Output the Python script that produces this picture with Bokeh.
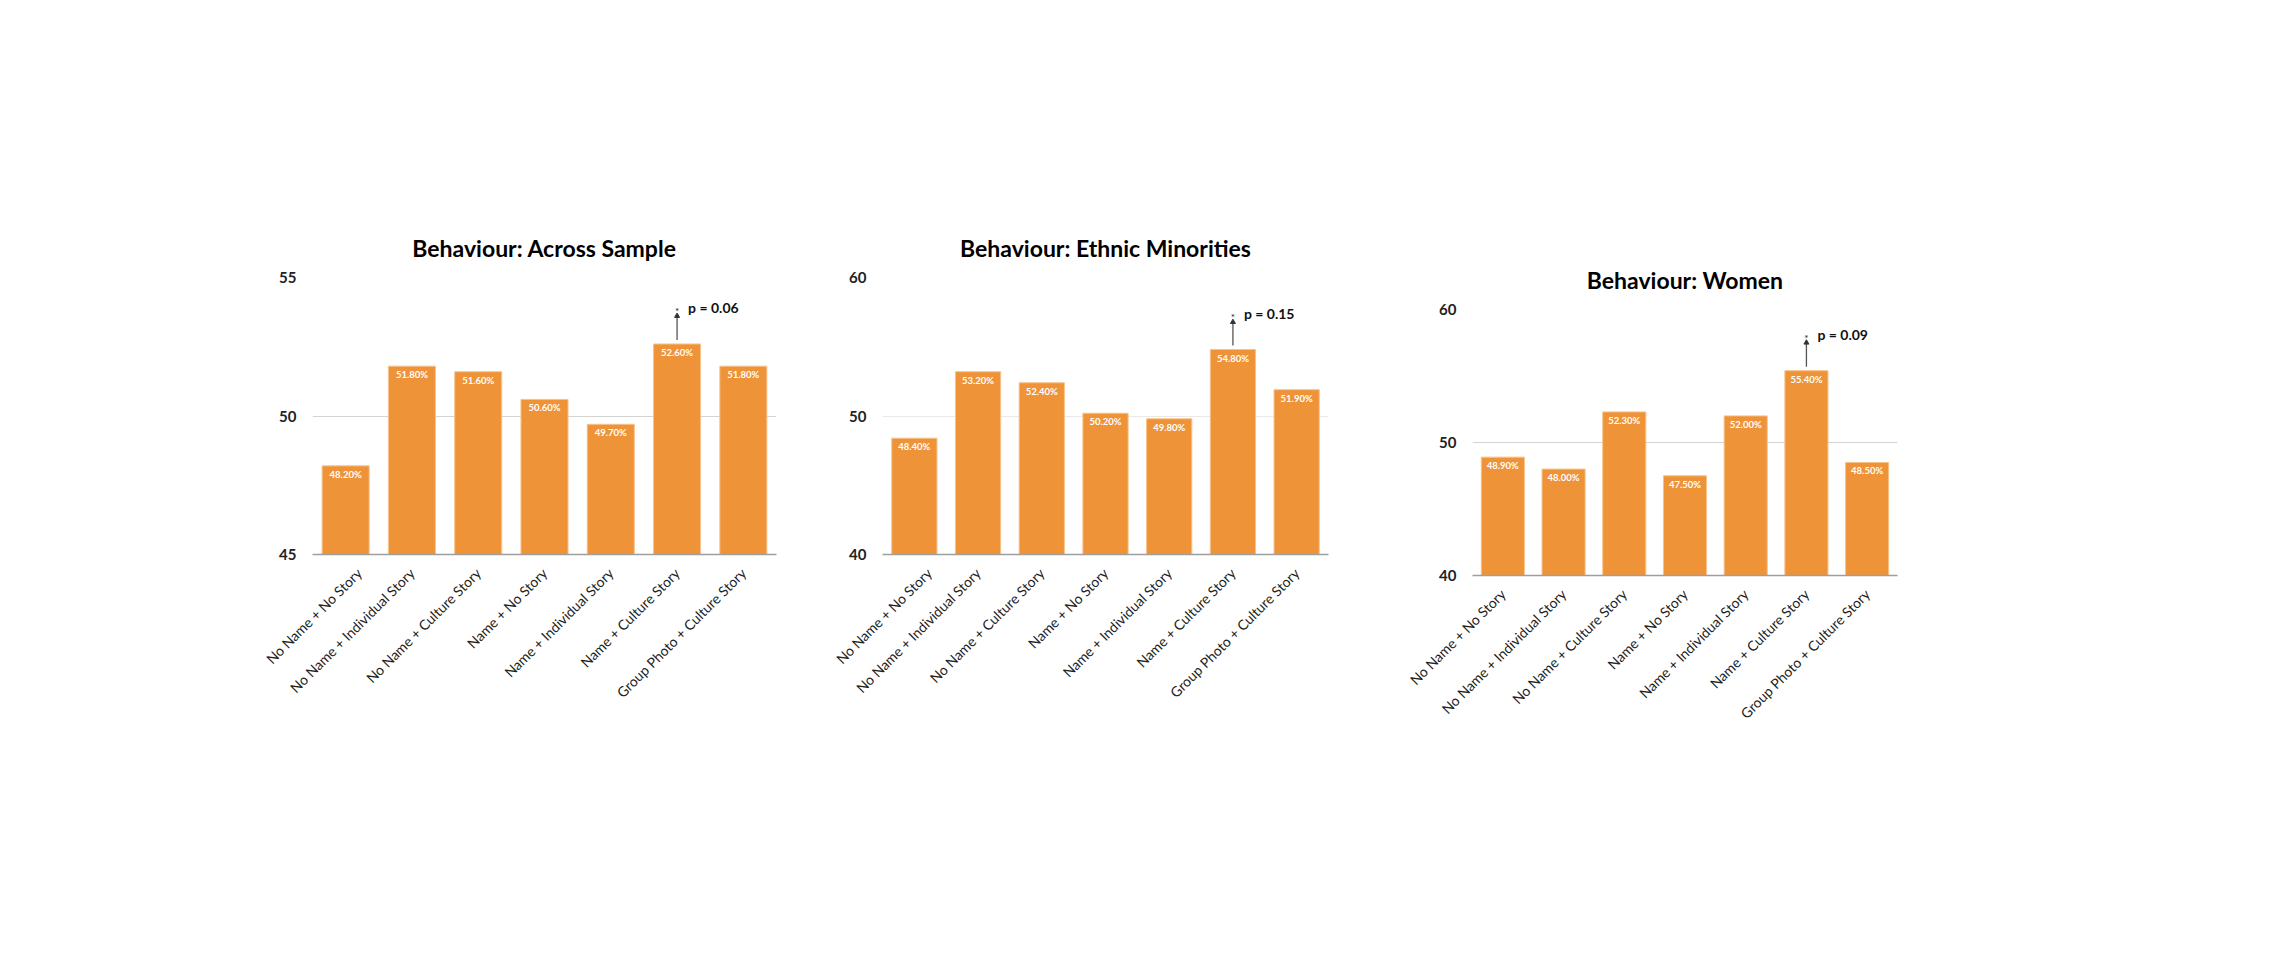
import math
from bokeh.plotting import figure
from bokeh.models import ColumnDataSource, FactorRange, Range1d, FixedTicker, Spacer
from bokeh.layouts import row, column
from bokeh.embed import file_html
from bokeh.resources import INLINE
from bokeh.core.properties import value

# ---------------- data ----------------
categories = ["No Name + No Story", "No Name + Individual Story", "No Name + Culture Story",
              "Name + No Story", "Name + Individual Story", "Name + Culture Story",
              "Group Photo + Culture Story"]
across_sample = [48.2, 51.8, 51.6, 50.6, 49.7, 52.6, 51.8]
ethnic_minorities = [48.4, 53.2, 52.4, 50.2, 49.8, 54.8, 51.9]
women = [48.9, 48.0, 52.3, 47.5, 52.0, 55.4, 48.5]
titles = ["Behaviour: Across Sample", "Behaviour: Ethnic Minorities", "Behaviour: Women"]
y_ticks_1 = [45, 50, 55]
y_ticks_2 = [40, 50, 60]
y_ticks_3 = [40, 50, 60]
p_labels = ["p = 0.06", "p = 0.15", "p = 0.09"]
sig_index = 5

FONT = "Lato"
BAR = "#EE9338"
EDGE = "#F7C38C"


def make_chart(title, vals, ticks, plabel, w, h, bl, br, bt, bb, grid_color):
    ymin, ymax = ticks[0], ticks[-1]
    p = figure(x_range=FactorRange(factors=categories, range_padding=0),
               y_range=Range1d(ymin, ymax),
               width=w, height=h,
               min_border_left=bl, min_border_right=br, min_border_top=bt,
               min_border_bottom=bb,
               output_backend="svg", toolbar_location=None, title=title)
    fh = h - bt - bb
    src = ColumnDataSource(dict(cat=categories, val=vals, lbl=[f"{v:.2f}%" for v in vals]))
    p.vbar(x="cat", top="val", bottom=ymin, width=0.71, source=src,
           fill_color=BAR, line_color=EDGE, line_width=1)
    p.text(x="cat", y="val", text="lbl", source=src, text_color="white",
           text_font=value(FONT), text_font_size="9.5px", text_font_style="bold",
           text_align="center", text_baseline="top", y_offset=3)

    # significance annotation
    ppu = fh / (ymax - ymin)
    c = categories[sig_index]
    v = vals[sig_index]
    p.segment(x0=[c], y0=[v + 4 / ppu], x1=[c], y1=[v + 27 / ppu], line_color="#555555", line_width=1.3)
    p.scatter(x=[c], y=[v + 28 / ppu], marker="triangle", size=5, fill_color="#333333", line_color="#333333")
    p.text(x=[c], y=[v], text=["*"], text_font=value(FONT), text_font_size="10px",
           text_align="center", text_baseline="middle", y_offset=-33, text_color="#222222")
    p.text(x=[c], y=[v], text=[plabel], text_font=value(FONT), text_font_size="14px",
           text_font_style="bold", text_align="left", text_baseline="middle",
           x_offset=11, y_offset=-36, text_color="#111111")

    p.title.text_font = FONT
    p.title.text_font_size = "23px"
    p.title.text_font_style = "bold"
    p.title.text_color = "#000000"
    p.title.align = "center"
    p.title.standoff = 32

    p.yaxis.ticker = FixedTicker(ticks=ticks)
    p.yaxis.major_label_text_font = FONT
    p.yaxis.major_label_text_font_size = "15px"
    p.yaxis.major_label_text_font_style = "bold"
    p.yaxis.major_label_text_color = "#222222"
    p.yaxis.axis_line_color = None
    p.yaxis.major_tick_line_color = None
    p.yaxis.minor_tick_line_color = None
    p.yaxis.major_label_standoff = 10

    p.xaxis.major_label_orientation = math.pi / 4
    p.xaxis.major_label_text_font = FONT
    p.xaxis.major_label_text_font_size = "14px"
    p.xaxis.major_label_text_color = "#222222"
    p.xaxis.axis_line_color = "#9e9e9e"
    p.xaxis.axis_line_width = 1.5
    p.xaxis.major_tick_line_color = None
    p.xaxis.minor_tick_line_color = None
    p.xaxis.major_label_standoff = 10

    p.xgrid.grid_line_color = None
    p.ygrid.grid_line_color = grid_color
    p.outline_line_color = None
    p.background_fill_color = "white"
    p.border_fill_color = "white"
    return p


p1 = make_chart(titles[0], across_sample, y_ticks_1, p_labels[0], 538, 768, 50, 24, 277, 214, "#d4d4d4")
p2 = make_chart(titles[1], ethnic_minorities, y_ticks_2, p_labels[1], 518, 768, 50, 22, 277, 209, "#e9e9e9")
p3 = make_chart(titles[2], women, y_ticks_3, p_labels[2], 520, 736, 72, 23, 277, 193, "#d4d4d4")

layout = row(Spacer(width=262, height=10), p1, Spacer(width=32, height=10), p2,
             Spacer(width=50, height=10), column(Spacer(width=10, height=32), p3))

open("out.html", "w").write(file_html(layout, INLINE))
